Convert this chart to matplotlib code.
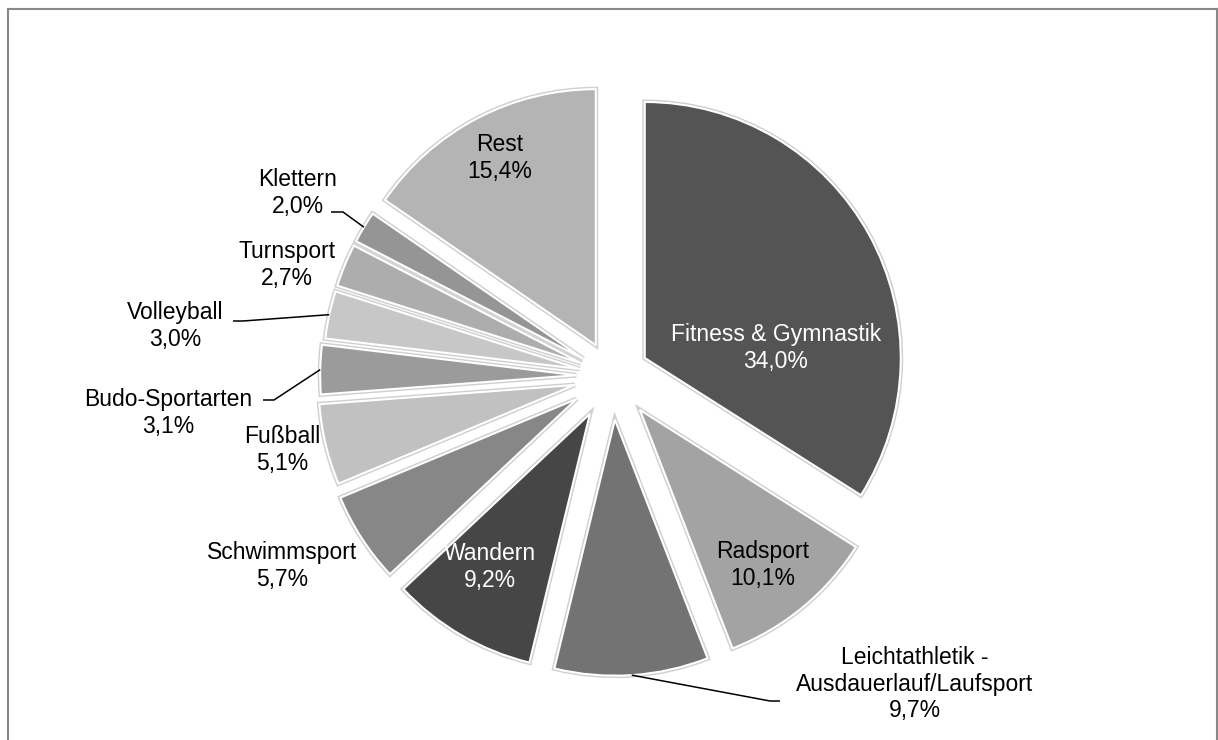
import matplotlib
matplotlib.use("Agg")
import matplotlib.pyplot as plt
import matplotlib.patheffects as pe
from matplotlib.lines import Line2D
import numpy as np

# ---- data ----
categories = ["Fitness & Gymnastik", "Radsport", "Leichtathletik -\nAusdauerlauf/Laufsport",
              "Wandern", "Schwimmsport", "Fußball", "Budo-Sportarten", "Volleyball",
              "Turnsport", "Klettern", "Rest"]
shares = [34.0, 10.1, 9.7, 9.2, 5.7, 5.1, 3.1, 3.0, 2.7, 2.0, 15.4]

# ---- style ----
colors = ["#545454", "#a3a3a3", "#737373", "#464646", "#878787", "#c1c1c1",
          "#9b9b9b", "#c7c7c7", "#adadad", "#959595", "#b4b4b4"]
explode_frac = [0.146, 0.171, 0.171, 0.171, 0.165, 0.15, 0.14, 0.13, 0.13, 0.13, 0.136]
text_colors = ["white", "black", "black", "white", "black", "black", "black",
               "black", "black", "black", "black"]
# label centres in pixel coordinates (x, y from top)
label_pos = [(776, 348), (763, 565), (915, 684), (490, 567), (282, 566), (282, 450),
             (168, 413), (175, 326), (287, 265), (298, 193), (500, 158)]
# leader lines: start points near the text (pixel coords from top)
leaders = {
    9: [(331, 212), (343, 212)],
    7: [(233, 321), (243, 321)],
    6: [(263, 400), (274, 400)],
    2: [(780, 701), (770, 701)],
}

W, H = 1218, 740
fig = plt.figure(figsize=(W / 100, H / 100), dpi=100)
ax = fig.add_axes([0, 0, 1, 1])

CX, CY, R = 612, H - 376, 256
explode = [e * R for e in explode_frac]
wedges, _ = ax.pie(shares, colors=colors, explode=explode, startangle=90,
                   counterclock=False, center=(CX, CY), radius=R, frame=True,
                   wedgeprops=dict(edgecolor="white", linewidth=1.5))
for w in wedges:
    w.set_path_effects([pe.withStroke(linewidth=3.5, foreground="#cfcfcf")])

ax.set_xlim(0, W)
ax.set_ylim(0, H)
ax.set_aspect("equal")
ax.axis("off")


def fmt(v):
    return f"{v:.1f}".replace(".", ",") + "%"


for i, (name, v) in enumerate(zip(categories, shares)):
    x, y = label_pos[i]
    ax.text(x, H - y, f"{name}\n{fmt(v)}", ha="center", va="center",
            fontsize=16.5, family="Liberation Sans", color=text_colors[i],
            linespacing=1.2)

for i, pts in leaders.items():
    w = wedges[i]
    t = np.deg2rad((w.theta1 + w.theta2) / 2)
    ex = w.center[0] + w.r * np.cos(t)
    ey = w.center[1] + w.r * np.sin(t)
    xs = [p[0] for p in pts] + [ex]
    ys = [H - p[1] for p in pts] + [ey]
    ax.plot(xs, ys, color="black", linewidth=1.1, solid_capstyle="butt")

# outer frame (left, top, right)
fc = "#888888"
fig.add_artist(Line2D([7.5 / W, 7.5 / W], [0, 1 - 8.5 / H], color=fc, lw=1.5,
                      transform=fig.transFigure))
fig.add_artist(Line2D([7.5 / W, 1216.5 / W], [1 - 8.5 / H, 1 - 8.5 / H], color=fc, lw=1.5,
                      transform=fig.transFigure))
fig.add_artist(Line2D([1216.5 / W, 1216.5 / W], [0, 1 - 8.5 / H], color=fc, lw=1.5,
                      transform=fig.transFigure))

fig.savefig("out.png", dpi=100, facecolor="white")
